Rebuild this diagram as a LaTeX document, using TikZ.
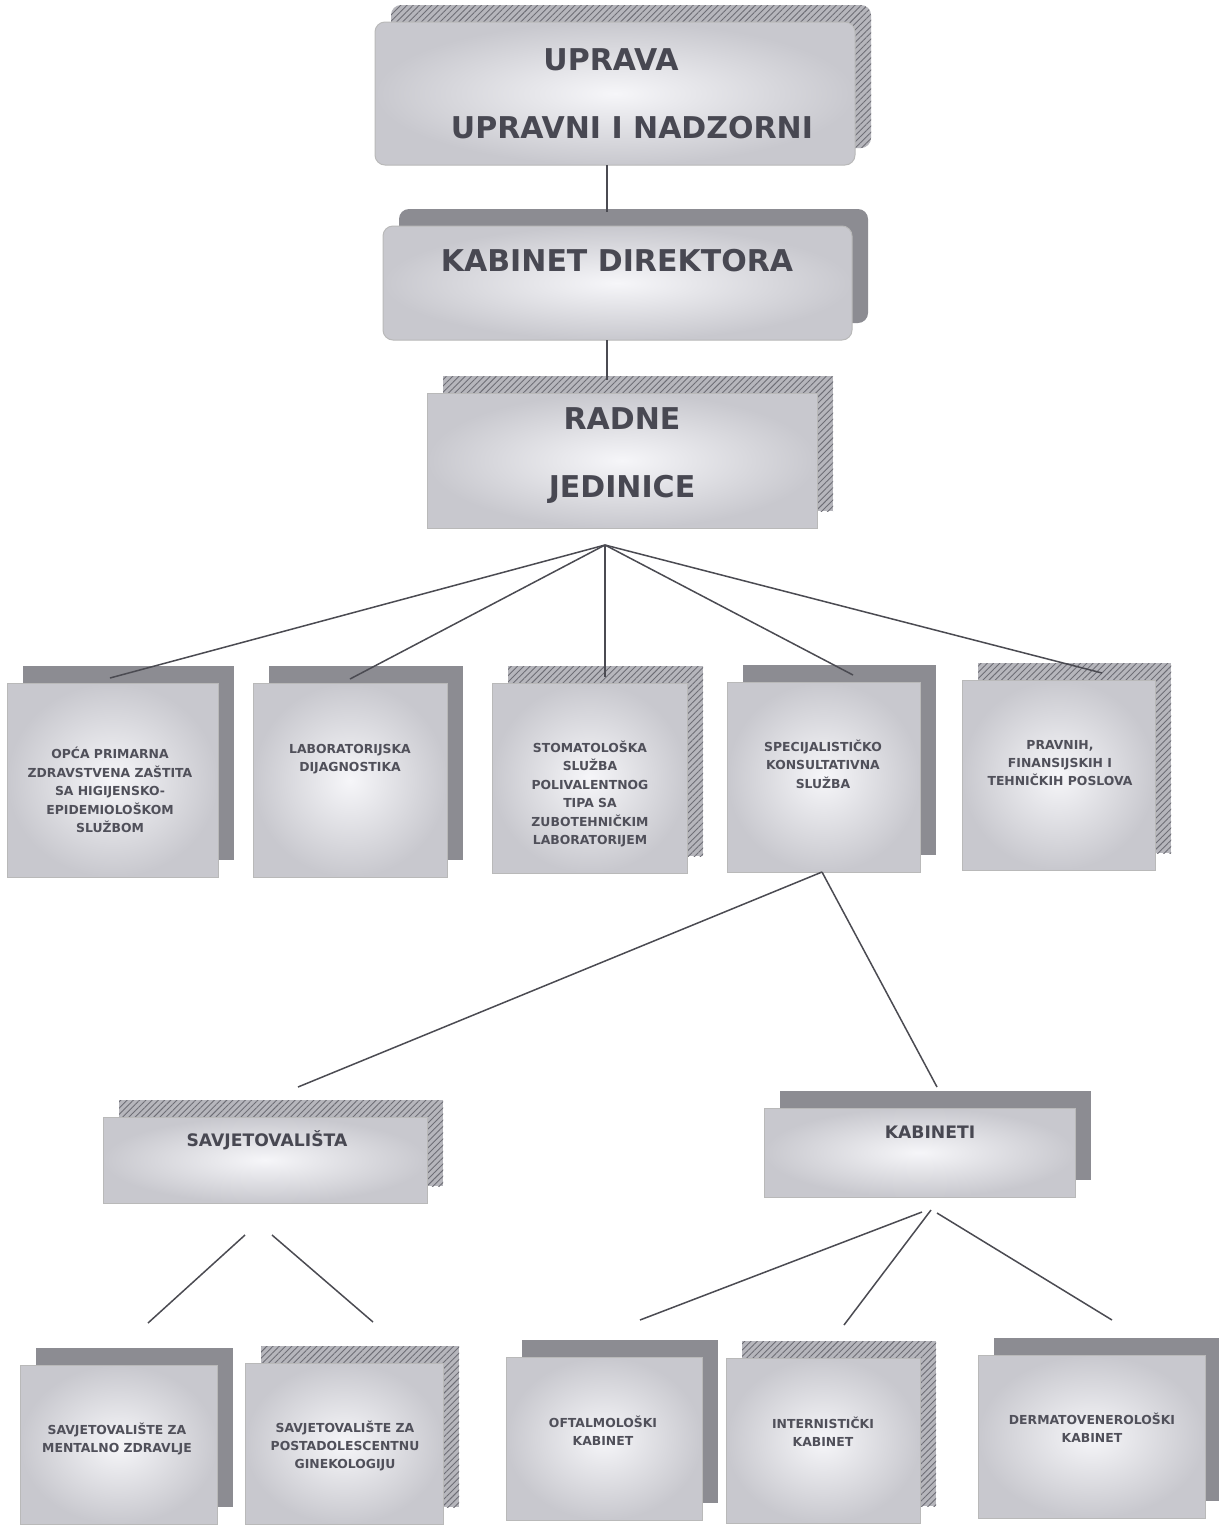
\documentclass[tikz,border=0pt]{standalone}
\usepackage{fontspec}
\newfontfamily\boxfont{DejaVu Sans}
\usetikzlibrary{fit,patterns.meta}
\definecolor{txtdark}{RGB}{72,72,82}
\definecolor{txtsmall}{RGB}{80,80,90}
\definecolor{linecol}{RGB}{75,75,82}
\definecolor{solidsh}{RGB}{140,140,146}
\definecolor{hatchbg}{RGB}{182,182,188}
\definecolor{hatchln}{RGB}{110,110,118}
\definecolor{frontin}{RGB}{246,246,249}
\definecolor{frontout}{RGB}{200,200,206}
\tikzset{
  frontbox/.style={draw=gray!55, line width=0.5pt, inner sep=0pt,
    shading=radial, inner color=frontin, outer color=frontout},
  solidshadow/.style={fill=solidsh},
  hatchshadow/.style={fill=hatchbg,
    postaction={pattern={Lines[angle=45,distance=2.2pt,line width=0.45pt]}, pattern color=hatchln}},
  bigtxt/.style={text=txtdark, align=center, inner sep=0pt,
    font={\boxfont\bfseries\fontsize{15}{18}\selectfont}},
  midtxt/.style={text=txtdark, align=center, inner sep=0pt,
    font={\boxfont\bfseries\fontsize{8.6}{10}\selectfont}},
  smalltxt/.style={text=txtsmall, align=center, inner sep=0pt,
    font={\boxfont\bfseries\fontsize{6.2}{9.2}\selectfont}},
  conn/.style={draw=linecol, line width=0.75pt}
}
% #1 name, #2 x1, #3 y1, #4 x2, #5 y2, #6 shadow style, #7 extra options
\newcommand\orgbox[7]{%
  \path[#6,#7] (#2+16,#3-17) rectangle (#4+16,#5-17);
  \node[frontbox,#7, fit={(#2,#3) (#4,#5)}] (#1) {};
}
\begin{document}
\begin{tikzpicture}[x=0.5pt,y=-0.5pt]
\useasboundingbox (0,0) rectangle (1219,1526);
\fill[white] (0,0) rectangle (1219,1526);

% ---------- boxes ----------
\orgbox{uprava}{375}{22}{855}{165}{hatchshadow}{rounded corners=5pt}
\orgbox{kabdir}{383}{226}{852}{340}{solidshadow}{rounded corners=5pt}
\orgbox{radne}{427}{393}{817}{528}{hatchshadow}{}
\orgbox{opca}{7}{683}{218}{877}{solidshadow}{}
\orgbox{lab}{253}{683}{447}{877}{solidshadow}{}
\orgbox{stomato}{492}{683}{687}{873}{hatchshadow}{}
\orgbox{spec}{727}{682}{920}{872}{solidshadow}{}
\orgbox{pravnih}{962}{680}{1155}{870}{hatchshadow}{}
\orgbox{savj}{103}{1117}{427}{1203}{hatchshadow}{}
\orgbox{kabineti}{764}{1108}{1075}{1197}{solidshadow}{}
\orgbox{mental}{20}{1365}{217}{1524}{solidshadow}{}
\orgbox{postadol}{245}{1363}{443}{1524}{hatchshadow}{}
\orgbox{oftalm}{506}{1357}{702}{1520}{solidshadow}{}
\orgbox{intern}{726}{1358}{920}{1523}{hatchshadow}{}
\orgbox{derma}{978}{1355}{1205}{1518}{solidshadow}{}

% ---------- connectors ----------
\coordinate (u1) at (607,165);
\coordinate (k1) at (607,212);
\coordinate (k2) at (607,340);
\coordinate (r1) at (607,380);
\coordinate (hub) at (605,545);
\coordinate (e1) at (110,678);
\coordinate (e2) at (350,679);
\coordinate (e3) at (605,677);
\coordinate (e4) at (853,675);
\coordinate (e5) at (1102,673);
\coordinate (sh) at (822,872);
\coordinate (f1) at (298,1087);
\coordinate (f2) at (937,1087);
\coordinate (g1) at (245,1235);
\coordinate (g2) at (148,1323);
\coordinate (g3) at (272,1235);
\coordinate (g4) at (373,1322);
\coordinate (h1) at (922,1212);
\coordinate (h2) at (931,1210);
\coordinate (h3) at (937,1213);
\coordinate (i1) at (640,1320);
\coordinate (i2) at (844,1325);
\coordinate (i3) at (1112,1320);

\draw[conn] (u1) -- (k1);
\draw[conn] (k2) -- (r1);
\draw[conn] (hub) -- (e1);
\draw[conn] (hub) -- (e2);
\draw[conn] (hub) -- (e3);
\draw[conn] (hub) -- (e4);
\draw[conn] (hub) -- (e5);
\draw[conn] (sh) -- (f1);
\draw[conn] (sh) -- (f2);
\draw[conn] (g1) -- (g2);
\draw[conn] (g3) -- (g4);
\draw[conn] (h1) -- (i1);
\draw[conn] (h2) -- (i2);
\draw[conn] (h3) -- (i3);

% ---------- texts ----------
\node[bigtxt] (tuprava) at (632,94) {\hspace*{-21pt}UPRAVA\\[16pt]UPRAVNI I NADZORNI};
\node[bigtxt] (tkabdir) at (617,261) {KABINET DIREKTORA};
\node[bigtxt] (tradne) at (622,456) {RADNE\\[16pt]JEDINICE};
\node[smalltxt] (topca) at (110,790) {OPĆA PRIMARNA\\ZDRAVSTVENA ZAŠTITA\\SA HIGIJENSKO-\\EPIDEMIOLOŠKOM\\SLUŽBOM};
\node[smalltxt] (tlab) at (350,759) {LABORATORIJSKA\\DIJAGNOSTIKA};
\node[smalltxt] (tstomato) at (590,794) {STOMATOLOŠKA\\SLUŽBA\\POLIVALENTNOG\\TIPA SA\\ZUBOTEHNIČKIM\\LABORATORIJEM};
\node[smalltxt] (tspec) at (823,764) {SPECIJALISTIČKO\\KONSULTATIVNA\\SLUŽBA};
\node[smalltxt] (tpravnih) at (1060,763) {PRAVNIH,\\FINANSIJSKIH I\\TEHNIČKIH POSLOVA};
\node[midtxt] (tsavj) at (267,1140) {SAVJETOVALIŠTA};
\node[midtxt] (tkabineti) at (930,1132) {KABINETI};
\node[smalltxt] (tmental) at (117,1439) {SAVJETOVALIŠTE ZA\\MENTALNO ZDRAVLJE};
\node[smalltxt] (tpostadol) at (345,1446) {SAVJETOVALIŠTE ZA\\POSTADOLESCENTNU\\GINEKOLOGIJU};
\node[smalltxt] (toftalm) at (603,1431) {OFTALMOLOŠKI\\KABINET};
\node[smalltxt] (tintern) at (823,1432) {INTERNISTIČKI\\KABINET};
\node[smalltxt] (tderma) at (1092,1428) {DERMATOVENEROLOŠKI\\KABINET};
\end{tikzpicture}
\end{document}
